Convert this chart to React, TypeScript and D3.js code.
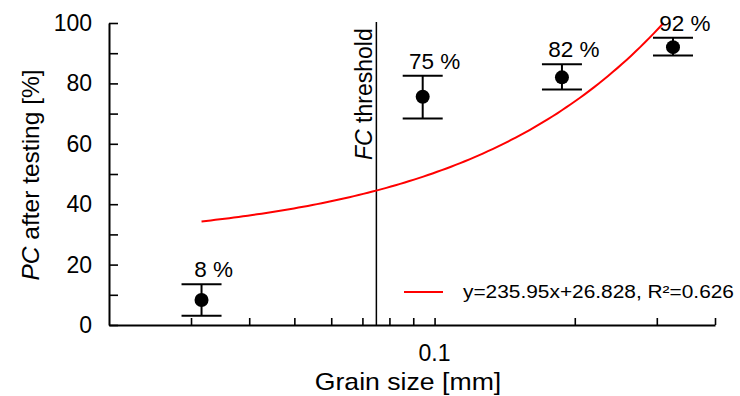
import React, { useEffect, useRef } from 'react';
import * as d3 from 'd3';

// grain size [mm] of each tested sample
const grainSizes = [0.0316, 0.0943, 0.1877, 0.325];
// PC after testing [%]
const pcMeans = [8.3, 75.6, 82.0, 92.0];
const pcUpper = [13.5, 82.5, 86.3, 95.1];
const pcLower = [3.1, 68.4, 78.0, 89.2];
const pointLabels = ['8 %', '75 %', '82 %', '92 %'];

const xTicks = [0.03, 0.04, 0.05, 0.06, 0.07, 0.08, 0.09, 0.1, 0.2, 0.3, 0.4];
const xTickLabels = [0.1];
const yTicks = [0, 10, 20, 30, 40, 50, 60, 70, 80, 90, 100];
const yTickLabels = [0, 20, 40, 60, 80, 100];

const fcThreshold = 0.075;
const fitSlope = 235.95;
const fitIntercept = 26.828;
const fitLabel = 'y=235.95x+26.828, R²=0.626';

const W = 740;
const H = 396;
const FONT = 'Liberation Sans, Arial, sans-serif';

export default function App() {
  const svgRef = useRef<SVGSVGElement>(null);

  useEffect(() => {
    const svg = d3.select(svgRef.current);
    svg.selectAll('*').remove();

    const left = 109, right = 715, top = 23, bottom = 325;

    const x = d3.scaleLog().domain([0.02, 0.4]).range([left, right]);
    const y = d3.scaleLinear().domain([0, 100]).range([bottom, top]);

    svg.append('rect').attr('width', W).attr('height', H).attr('fill', 'white');

    // axes
    const gx = svg.append('g').attr('transform', `translate(0,${bottom})`);
    gx.call(d3.axisBottom(x).tickValues(xTicks).tickSizeInner(-7).tickSizeOuter(0).tickFormat(() => ''));
    gx.select('.domain').attr('stroke', 'black').attr('stroke-width', 2);
    gx.selectAll('.tick line').attr('stroke', 'black').attr('stroke-width', 1.6);
    gx.selectAll('.tick text').remove();

    xTickLabels.forEach(v => {
      svg.append('text')
        .attr('x', x(v))
        .attr('y', 361)
        .attr('text-anchor', 'middle')
        .style('font-family', FONT)
        .style('font-size', '23px')
        .text(String(v));
    });

    const gy = svg.append('g').attr('transform', `translate(${left},0)`);
    gy.call(d3.axisLeft(y).tickValues(yTicks).tickSizeInner(-9).tickSizeOuter(0).tickFormat(() => ''));
    gy.select('.domain').attr('stroke', 'black').attr('stroke-width', 2);
    gy.selectAll('.tick line').attr('stroke', 'black').attr('stroke-width', 1.6);
    gy.selectAll('.tick text').remove();

    yTickLabels.forEach(v => {
      svg.append('text')
        .attr('x', 92)
        .attr('y', y(v) + 8)
        .attr('text-anchor', 'end')
        .style('font-family', FONT)
        .style('font-size', '23px')
        .text(String(v));
    });

    // axis titles
    svg.append('text')
      .attr('transform', 'translate(408,390) scale(1.11,1)')
      .attr('text-anchor', 'middle')
      .style('font-family', FONT)
      .style('font-size', '24px')
      .text('Grain size [mm]');

    const yt = svg.append('text')
      .attr('transform', 'translate(39,175) rotate(-90)')
      .attr('text-anchor', 'middle')
      .style('font-family', FONT)
      .style('font-size', '24.5px');
    yt.append('tspan').style('font-style', 'italic').text('PC');
    yt.append('tspan').text(' after testing [%]');

    // FC threshold
    svg.append('line')
      .attr('x1', x(fcThreshold)).attr('x2', x(fcThreshold))
      .attr('y1', 22).attr('y2', bottom)
      .attr('stroke', 'black').attr('stroke-width', 1.5);

    const ft = svg.append('text')
      .attr('transform', `translate(${x(fcThreshold) - 4},160) rotate(-90)`)
      .style('font-family', FONT)
      .style('font-size', '23px');
    ft.append('tspan').style('font-style', 'italic').text('FC');
    ft.append('tspan').text(' threshold');

    // fitted trend line
    const xEnd = (100 - fitIntercept) / fitSlope;
    const fitXs = d3.range(0, 101).map(i => grainSizes[0] * Math.pow(xEnd / grainSizes[0], i / 100));
    svg.append('path')
      .datum(fitXs)
      .attr('fill', 'none')
      .attr('stroke', '#ff0000')
      .attr('stroke-width', 2)
      .attr('d', d3.line<number>().x(d => x(d)).y(d => y(fitSlope * d + fitIntercept)));

    // error bars and points
    grainSizes.forEach((g, i) => {
      const cx = x(g);
      const bar = svg.append('g').attr('stroke', 'black').attr('stroke-width', 2);
      bar.append('line').attr('x1', cx).attr('x2', cx).attr('y1', y(pcUpper[i])).attr('y2', y(pcLower[i]));
      bar.append('line').attr('x1', cx - 20).attr('x2', cx + 20).attr('y1', y(pcUpper[i])).attr('y2', y(pcUpper[i]));
      bar.append('line').attr('x1', cx - 20).attr('x2', cx + 20).attr('y1', y(pcLower[i])).attr('y2', y(pcLower[i]));

      svg.append('circle').attr('cx', cx).attr('cy', y(pcMeans[i])).attr('r', 7).attr('fill', 'black');

      svg.append('text')
        .attr('x', cx + 12)
        .attr('y', y(pcUpper[i]) - 7)
        .attr('text-anchor', 'middle')
        .style('font-family', FONT)
        .style('font-size', '22.5px')
        .text(pointLabels[i]);
    });

    // legend
    svg.append('line')
      .attr('x1', 404).attr('x2', 443).attr('y1', 292).attr('y2', 292)
      .attr('stroke', '#ff0000').attr('stroke-width', 2);
    svg.append('text')
      .attr('transform', 'translate(463,298) scale(1.16,1)')
      .style('font-family', FONT)
      .style('font-size', '18px')
      .text(fitLabel);
  }, []);

  return (
    <div style={{ position: 'absolute', left: 0, top: 0 }}>
      <svg ref={svgRef} width={W} height={H}></svg>
    </div>
  );
}
